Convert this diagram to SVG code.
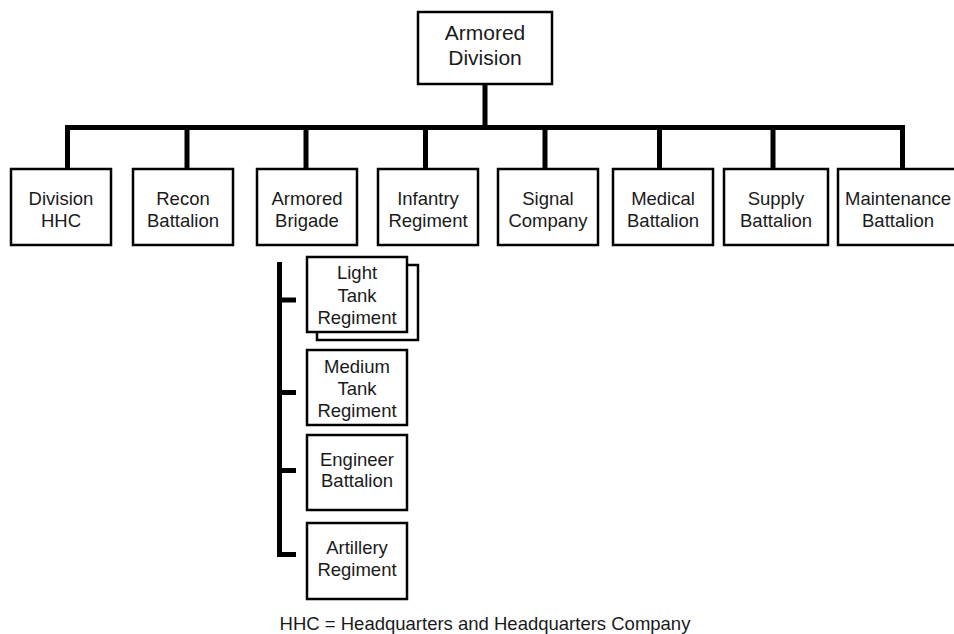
<svg xmlns="http://www.w3.org/2000/svg" width="954" height="634" viewBox="0 0 954 634">
<style>
  .box { fill: #ffffff; stroke: #000000; stroke-width: 2.5; }
  .lbl { font-family: "Liberation Sans", Arial, Helvetica, sans-serif; font-size: 18.5px; fill: #1a1a1a; text-anchor: middle; }
  .top { font-size: 21px; }
  .conn { fill: none; stroke: #000000; stroke-width: 5; stroke-linejoin: miter; stroke-linecap: butt; }
</style>
<rect x="0" y="0" width="954" height="634" fill="#ffffff"/>
<g id="connectors">
  <path class="conn" d="M485 84 V127.5"/>
  <path class="conn" d="M67.5 169 V127.5 H902.5 V169"/>
  <path class="conn" d="M187 127.5 V169"/>
  <path class="conn" d="M306 127.5 V169"/>
  <path class="conn" d="M425.5 127.5 V169"/>
  <path class="conn" d="M545 127.5 V169"/>
  <path class="conn" d="M659.5 127.5 V169"/>
  <path class="conn" d="M773 127.5 V169"/>
  <path class="conn" d="M279.5 262 V554.5 H296"/>
  <path class="conn" d="M279.5 300 H296"/>
  <path class="conn" d="M279.5 392.5 H296"/>
  <path class="conn" d="M279.5 470.5 H296"/>
</g>
<g id="armored-division">
  <rect class="box" x="418" y="12" width="134" height="72"/>
  <text class="lbl top" x="485" y="39.5">Armored</text>
  <text class="lbl top" x="485" y="65">Division</text>
</g>
<g id="division-hhc">
  <rect class="box" x="11" y="169" width="100" height="76"/>
  <text class="lbl" x="61" y="205">Division</text>
  <text class="lbl" x="61" y="227">HHC</text>
</g>
<g id="recon-battalion">
  <rect class="box" x="133" y="169" width="100" height="76"/>
  <text class="lbl" x="183" y="205">Recon</text>
  <text class="lbl" x="183" y="227">Battalion</text>
</g>
<g id="armored-brigade">
  <rect class="box" x="257" y="169" width="100" height="76"/>
  <text class="lbl" x="307" y="205">Armored</text>
  <text class="lbl" x="307" y="227">Brigade</text>
</g>
<g id="infantry-regiment">
  <rect class="box" x="378" y="169" width="100" height="76"/>
  <text class="lbl" x="428" y="205">Infantry</text>
  <text class="lbl" x="428" y="227">Regiment</text>
</g>
<g id="signal-company">
  <rect class="box" x="498" y="169" width="100" height="76"/>
  <text class="lbl" x="548" y="205">Signal</text>
  <text class="lbl" x="548" y="227">Company</text>
</g>
<g id="medical-battalion">
  <rect class="box" x="613" y="169" width="100" height="76"/>
  <text class="lbl" x="663" y="205">Medical</text>
  <text class="lbl" x="663" y="227">Battalion</text>
</g>
<g id="supply-battalion">
  <rect class="box" x="724" y="169" width="104" height="76"/>
  <text class="lbl" x="776" y="205">Supply</text>
  <text class="lbl" x="776" y="227">Battalion</text>
</g>
<g id="maintenance-battalion">
  <rect class="box" x="838" y="169" width="120" height="76"/>
  <text class="lbl" x="898" y="205">Maintenance</text>
  <text class="lbl" x="898" y="227">Battalion</text>
</g>
<g id="light-tank-regiment">
  <rect class="box" x="317" y="265" width="101" height="75"/>
  <rect class="box" x="307" y="257" width="100" height="75"/>
  <text class="lbl" x="357" y="279">Light</text>
  <text class="lbl" x="357" y="302">Tank</text>
  <text class="lbl" x="357" y="324">Regiment</text>
</g>
<g id="medium-tank-regiment">
  <rect class="box" x="307" y="350" width="100" height="75"/>
  <text class="lbl" x="357" y="373">Medium</text>
  <text class="lbl" x="357" y="395">Tank</text>
  <text class="lbl" x="357" y="417">Regiment</text>
</g>
<g id="engineer-battalion">
  <rect class="box" x="307" y="435" width="100" height="75"/>
  <text class="lbl" x="357" y="466">Engineer</text>
  <text class="lbl" x="357" y="487">Battalion</text>
</g>
<g id="artillery-regiment">
  <rect class="box" x="307" y="523" width="100" height="76"/>
  <text class="lbl" x="357" y="554">Artillery</text>
  <text class="lbl" x="357" y="576">Regiment</text>
</g>
<g id="footnote">
  <text class="lbl" x="485" y="629.5" font-size="18px">HHC = Headquarters and Headquarters Company</text>
</g>
</svg>
